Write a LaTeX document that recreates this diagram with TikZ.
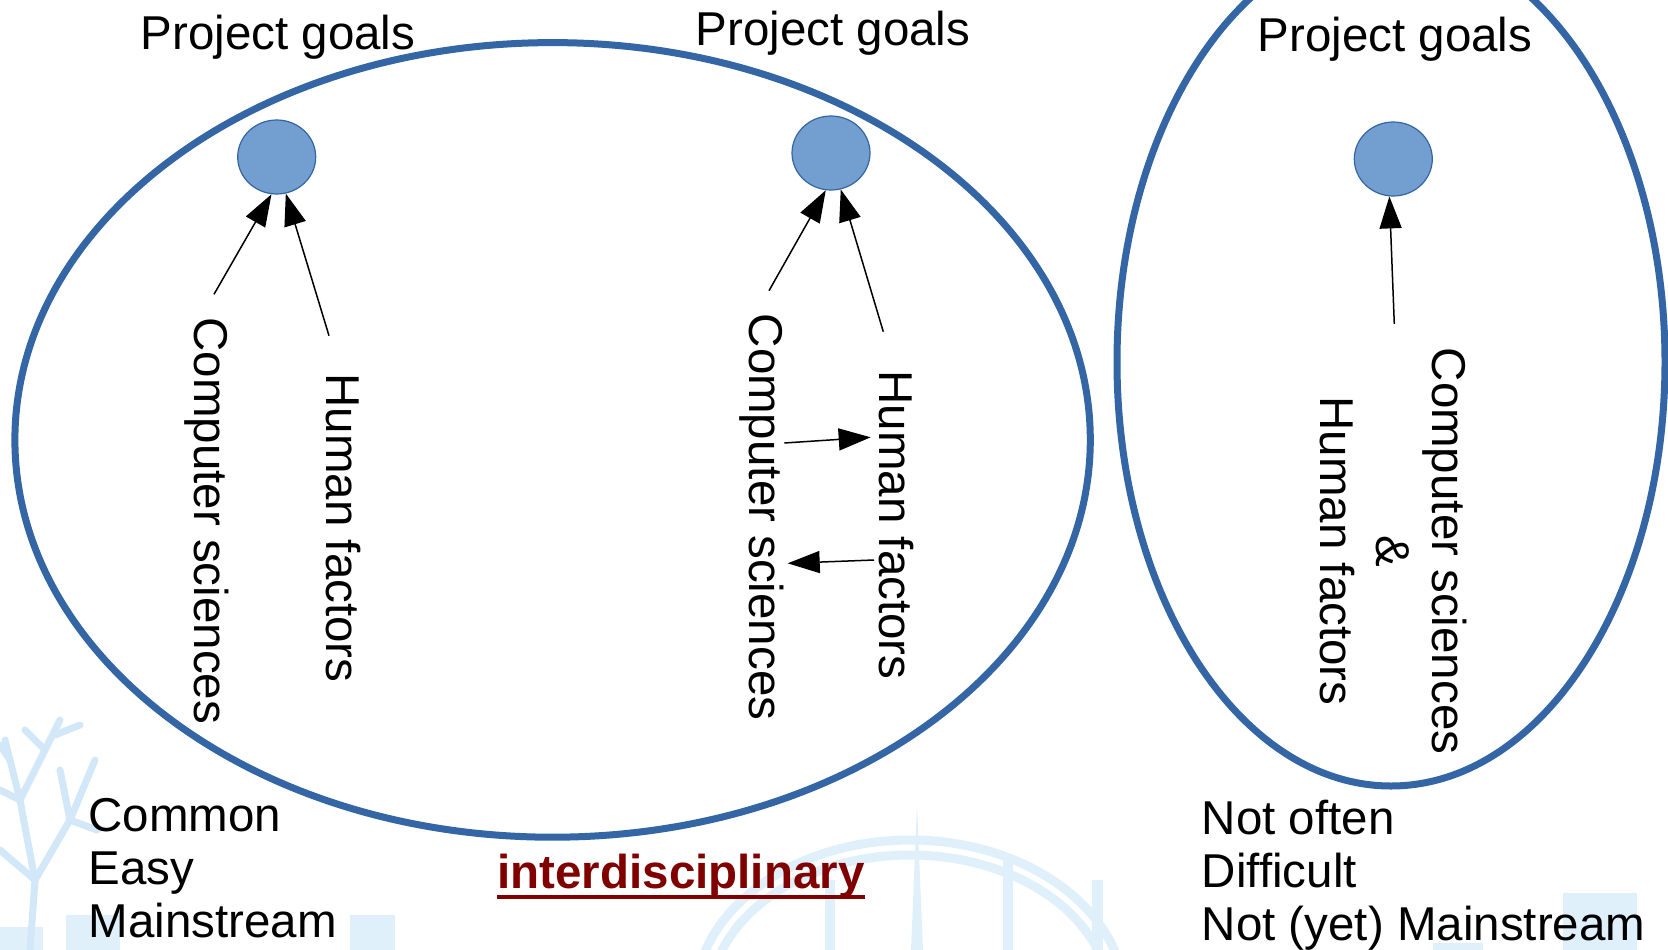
\documentclass[tikz,border=0pt]{standalone}
\usepackage{fontspec}
\setmainfont{Liberation Sans}
\usetikzlibrary{arrows.meta,shapes.geometric}
\definecolor{ellblue}{HTML}{3465A4}
\definecolor{fillblue}{HTML}{729FCF}
\definecolor{darkred}{HTML}{800000}
\definecolor{wmark}{HTML}{DFF0FB}
\definecolor{wtree}{HTML}{D2E8F8}
\begin{document}
\begin{tikzpicture}[x=1pt,y=-1pt,
  txt/.style={font=\fontsize{47.5}{56}\selectfont, inner sep=0pt, text=black},
  bottomtxt/.style={font=\fontsize{47.5}{53}\selectfont, inner sep=0pt, text=black, align=left, anchor=base west},
  goal/.style={ellipse, minimum width=78pt, minimum height=74pt, inner sep=0pt, fill=fillblue, draw=ellblue, line width=1.2pt},
  big/.style={draw=ellblue, line width=7pt},
  arr/.style={line width=1.5pt, -{Triangle[length=32pt,width=22pt]}},
  wm/.style={draw=wmark, line width=9pt},
  wmt/.style={draw=wtree, line width=7pt, line cap=round},
]
\useasboundingbox (0,0) rectangle (1668,950);
\clip (0,0) rectangle (1668,950);
\fill[white] (0,0) rectangle (1668,950);

% faint background watermark
\draw[wm] (695,1000) arc[start angle=180, end angle=360, x radius=215, y radius=160];
\draw[wm] (710,1000) arc[start angle=180, end angle=360, x radius=200, y radius=145];
\fill[wmark] (911,950) -- (917,805) -- (923,950) -- cycle;
\fill[wmark] (825,880) rectangle (835,950);
\fill[wmark] (1003,860) rectangle (1013,950);
\fill[wmark] (1092,880) rectangle (1103,950);
\fill[wmark] (1433,943) rectangle (1483,950);
\fill[wmark] (1563,893) rectangle (1637,950);
\fill[wmark] (0,927) rectangle (43,950);
\fill[wmark] (66,915) rectangle (120,950);
\fill[wmark] (350,915) rectangle (395,950);
\draw[wmt] (30,950) -- (35,880) -- (20,800) -- (5,740);
\draw[wmt] (35,880) -- (70,820) -- (95,760);
\draw[wmt] (20,800) -- (45,750) -- (60,720);
\draw[wmt] (70,820) -- (60,770);
\draw[wmt] (35,880) -- (0,850);
\draw[wmt] (20,800) -- (0,790);
\draw[wmt] (45,750) -- (25,730);
\draw[wmt] (70,820) -- (97,830);
\draw[wmt] (55,735) -- (80,725);
\draw[wmt] (10,760) -- (0,745);

% large outlines
\coordinate (e1) at (552.6,439.9);
\draw[big] (e1) ellipse [x radius=537.7, y radius=397.3];
\coordinate (e2) at (1391,362);
\draw[big] (e2) ellipse [x radius=274, y radius=424];

% goal circles
\node[goal] (g1) at (276.7,157) {};
\node[goal] (g2) at (831,153) {};
\node[goal] (g3) at (1393.3,159) {};

% titles
\node[txt, anchor=base] (pg1) at (278,49.3) {Project goals};
\node[txt, anchor=base] (pg2) at (833,46) {Project goals};
\node[txt, anchor=base] (pg3) at (1395,51.7) {Project goals};

% rotated labels
\node[txt, rotate=-90] (cs1) at (206.3,520.8) {Computer sciences};
\node[txt, rotate=-90] (hf1) at (343,528) {Human factors};
\node[txt, rotate=-90] (cs2) at (762.2,517) {Computer sciences};
\node[txt, rotate=-90] (hf2) at (896.8,525) {Human factors};
\node[txt, rotate=-90, align=center] (both) at (1393.4,551) {Computer sciences\\\&\\Human factors};

% arrows
\coordinate (a1s) at (214,294.3);
\coordinate (a2s) at (329,335.7);
\coordinate (a3s) at (769,290.7);
\coordinate (a4s) at (883.3,331.7);
\coordinate (a5s) at (1394.3,324);
\draw[arr] (a1s) -- (g1.-98.7);
\draw[arr] (a2s) -- (g1.-76.4);
\draw[arr] (a3s) -- (g2.-98.2);
\draw[arr] (a4s) -- (g2.-75.3);
\draw[arr] (a5s) -- (g3.-96.2);

\coordinate (m3s) at (784.3,443);
\coordinate (m3e) at (870.7,437.3);
\coordinate (m4s) at (874,560);
\coordinate (m4e) at (787.7,563.3);
\draw[arr] (m3s) -- (m3e);
\draw[arr] (m4s) -- (m4e);

% bottom texts (anchor = baseline of last line)
\node[bottomtxt] (lefttxt) at (88.3,937.3) {Common\\Easy\\Mainstream};
\node[bottomtxt] (righttxt) at (1201.7,940) {Not often\\Difficult\\Not (yet) Mainstream};

\node[txt, anchor=base west, text=darkred, font=\fontsize{47.5}{56}\selectfont\bfseries] (inter) at (497.3,888) {interdisciplinary};
\draw[darkred, line width=3.3pt] ([yshift=-9pt]inter.base west) -- ([yshift=-9pt]inter.base east);
\end{tikzpicture}
\end{document}
